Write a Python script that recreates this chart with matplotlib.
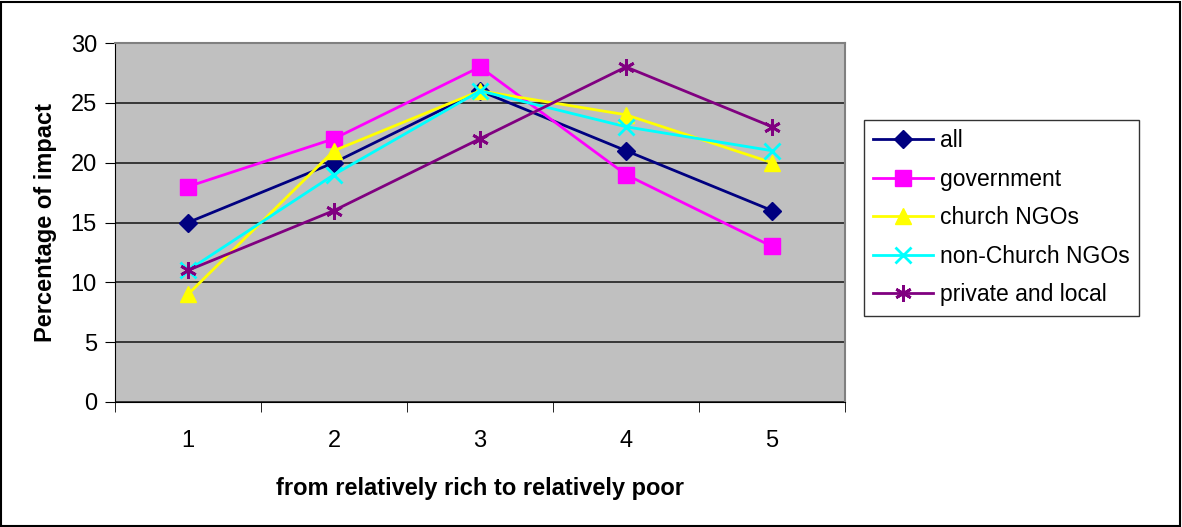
import matplotlib
matplotlib.use("Agg")
import matplotlib.pyplot as plt
from matplotlib.patches import Rectangle

plt.rcParams['font.family'] = ['Liberation Sans', 'DejaVu Sans']

categories = [1, 2, 3, 4, 5]
all_vals = [15, 20, 26, 21, 16]
government = [18, 22, 28, 19, 13]
church_ngos = [9, 21, 26, 24, 20]
non_church_ngos = [11, 19, 26, 23, 21]
private_local = [11, 16, 22, 28, 23]

series = [
    ("all", all_vals, "#000080", "D", 9),
    ("government", government, "#FF00FF", "s", 12),
    ("church NGOs", church_ngos, "#FFFF00", "^", 12),
    ("non-Church NGOs", non_church_ngos, "#00FFFF", "x", 11),
    ("private and local", private_local, "#800080", (6, 2, 0), 12),
]

fig = plt.figure(figsize=(11.82, 5.27), dpi=100)
ax = fig.add_axes([115 / 1182, 1 - 402 / 527, 730 / 1182, 359 / 527])
ax.set_facecolor("#C0C0C0")

for label, vals, color, marker, ms in series:
    kw = dict(color=color, lw=2, marker=marker, markersize=ms, label=label)
    if marker in ("x",) or isinstance(marker, tuple):
        kw.update(markeredgewidth=2)
    else:
        kw.update(markeredgecolor=color, markerfacecolor=color)
    ax.plot(categories, vals, **kw)

ax.set_xlim(0.5, 5.5)
ax.set_ylim(0, 30)
ax.set_yticks(range(0, 31, 5))
ax.set_xticks(categories)
ax.set_xticks([0.5, 1.5, 2.5, 3.5, 4.5, 5.5], minor=True)
ax.tick_params(axis='x', which='major', length=0, pad=20, labelsize=17)
ax.tick_params(axis='x', which='minor', length=7, direction='out', color='black')
ax.tick_params(axis='y', length=7, direction='out', labelsize=17, pad=6)
ax.yaxis.grid(True, color="#202020", lw=1.2)
ax.set_axisbelow(True)
for side in ("top", "right"):
    ax.spines[side].set_color("#808080")
    ax.spines[side].set_linewidth(1.5)
ax.spines["left"].set_color("black")
ax.spines["bottom"].set_color("black")

ax.set_xlabel("from relatively rich to relatively poor", fontsize=17, fontweight="bold", labelpad=18)
ax.set_ylabel("Percentage of impact", fontsize=17, fontweight="bold", labelpad=10)

leg = fig.legend(loc="upper left", bbox_to_anchor=(864 / 1182, 1 - 120 / 527),
                 fontsize=16.5, frameon=True, fancybox=False, edgecolor="black",
                 handlelength=2.6, borderpad=0.4, labelspacing=0.68, handletextpad=0.3,
                 borderaxespad=0)
leg.get_frame().set_linewidth(1)

fig.patches.append(Rectangle((0.001, 0.001), 0.997, 0.996, transform=fig.transFigure,
                             fill=False, edgecolor="black", lw=1.5))

fig.savefig("out.png", dpi=100, facecolor="white")
